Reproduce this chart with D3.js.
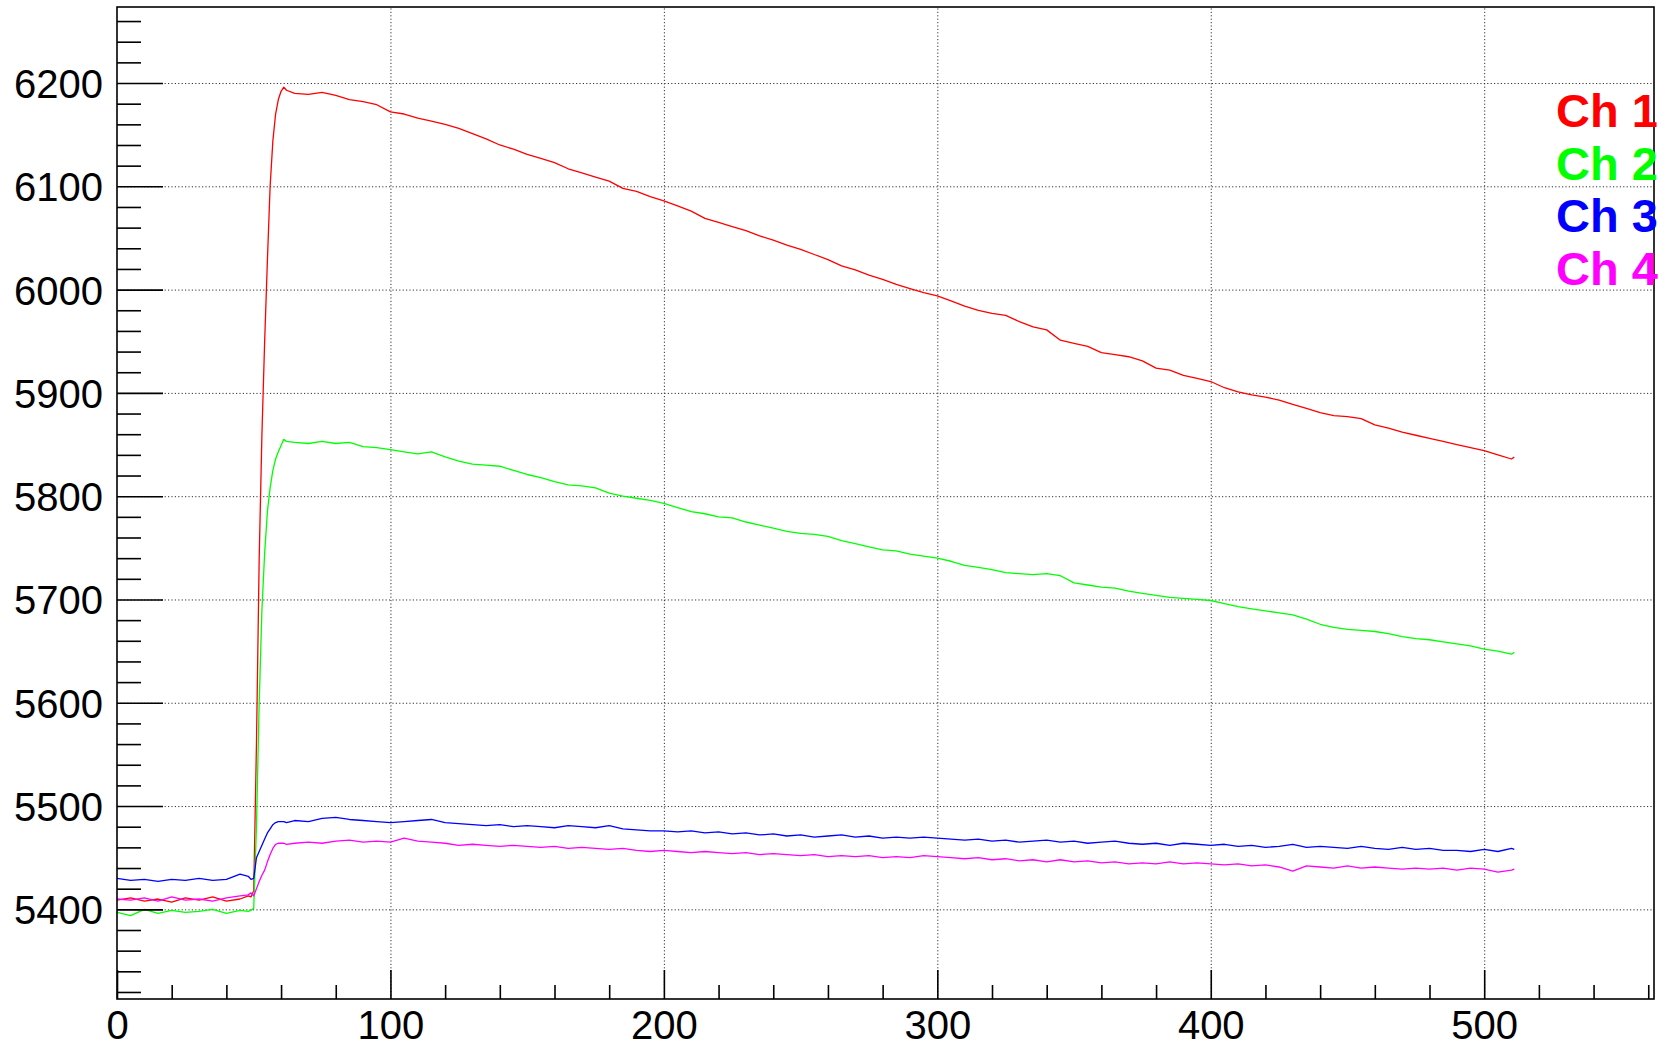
<!DOCTYPE html>
<html>
<head>
<meta charset="utf-8">
<script src="https://cdn.jsdelivr.net/npm/d3@7"></script>
<style>
  html, body { margin: 0; padding: 0; background: #ffffff; }
  svg { display: block; }
</style>
</head>
<body>
<svg id="chart" width="1679" height="1050"></svg>
<script>
// Sample index (time bin) at which each channel value is listed
const sampleIndex = [
  0, 5, 10, 15, 20, 25, 30, 35, 40, 45, 48, 49, 50, 51, 52, 53, 54, 55, 56, 57, 58, 59, 60, 61, 62,
  65, 70, 75, 80, 85, 90, 95, 100, 105, 110, 115, 120, 125, 130, 135, 140, 145, 150, 155, 160,
  165, 170, 175, 180, 185, 190, 195, 200, 205, 210, 215, 220, 225, 230, 235, 240, 245, 250, 255,
  260, 265, 270, 275, 280, 285, 290, 295, 300, 305, 310, 315, 320, 325, 330, 335, 340, 345, 350,
  355, 360, 365, 370, 375, 380, 385, 390, 395, 400, 405, 410, 415, 420, 425, 430, 435, 440, 445,
  450, 455, 460, 465, 470, 475, 480, 485, 490, 495, 500, 505, 510, 511
];

const ch1 = [
  5409, 5411, 5408, 5410, 5407, 5411, 5409, 5412, 5408, 5410, 5413, 5412, 5418, 5560, 5740, 5860, 5950, 6028, 6100, 6144, 6170, 6184, 6192, 6196, 6193,
  6190, 6189, 6191, 6188, 6184, 6182, 6179, 6172, 6170, 6166, 6163, 6160, 6156, 6151, 6146, 6140, 6136, 6131, 6127, 6123,
  6117, 6113, 6109, 6105, 6098, 6095, 6090, 6086, 6081, 6076, 6069, 6065, 6061, 6057, 6052, 6048, 6043, 6039, 6034,
  6029, 6023, 6019, 6014, 6010, 6005, 6001, 5997, 5994, 5989, 5984, 5980, 5977, 5975, 5969, 5964, 5961, 5951, 5948,
  5945, 5939, 5937, 5935, 5931, 5924, 5922, 5917, 5914, 5911, 5905, 5901, 5898, 5896, 5893, 5889, 5885, 5881, 5878,
  5877, 5875, 5869, 5866, 5862, 5859, 5856, 5853, 5850, 5847, 5844, 5840, 5836, 5838
];

const ch2 = [
  5397, 5394, 5400, 5396, 5399, 5397, 5398, 5400, 5396, 5399, 5398, 5399, 5401, 5480, 5600, 5690, 5745, 5785, 5808, 5825, 5836, 5843, 5849, 5855, 5853,
  5852, 5851, 5853, 5851, 5852, 5848, 5847, 5845, 5843, 5841, 5843, 5838, 5834, 5831, 5830, 5829, 5825, 5821, 5818, 5814,
  5811, 5810, 5808, 5803, 5800, 5798, 5796, 5793, 5789, 5785, 5783, 5780, 5779, 5775, 5772, 5769, 5766, 5764, 5763,
  5761, 5757, 5754, 5751, 5748, 5747, 5744, 5742, 5740, 5737, 5733, 5731, 5729, 5726, 5725, 5724, 5725, 5723, 5716,
  5714, 5712, 5711, 5708, 5706, 5704, 5702, 5701, 5700, 5699, 5696, 5693, 5691, 5689, 5687, 5685, 5681, 5676, 5673,
  5671, 5670, 5669, 5667, 5664, 5662, 5661, 5659, 5657, 5655, 5652, 5650, 5647, 5649
];

const ch3 = [
  5430, 5428, 5429, 5427, 5429, 5428, 5430, 5428, 5429, 5434, 5432, 5429, 5430, 5450, 5456, 5462, 5468, 5474, 5478, 5482, 5484, 5485, 5485, 5485, 5484,
  5486, 5485, 5488, 5489, 5487, 5486, 5485, 5484, 5485, 5486, 5487, 5484, 5483, 5482, 5481, 5482, 5480, 5481, 5480, 5479,
  5481, 5480, 5479, 5481, 5478, 5477, 5476, 5476, 5475, 5476, 5474, 5475, 5473, 5474, 5472, 5473, 5471, 5472, 5470,
  5471, 5472, 5470, 5471, 5469, 5470, 5469, 5470, 5469, 5468, 5467, 5468, 5466, 5467, 5465, 5466, 5467, 5465, 5466,
  5464, 5465, 5466, 5464, 5463, 5464, 5462, 5464, 5463, 5462, 5463, 5461, 5462, 5460, 5461, 5463, 5460, 5461, 5460,
  5459, 5461, 5459, 5458, 5460, 5458, 5459, 5457, 5457, 5456, 5458, 5456, 5459, 5458
];

const ch4 = [
  5410, 5409, 5411, 5408, 5412, 5409, 5410, 5408, 5411, 5413, 5414, 5416, 5413, 5420, 5427, 5433, 5438, 5446, 5453, 5459, 5463, 5464, 5464, 5464, 5463,
  5464, 5465, 5464, 5466, 5467, 5465, 5466, 5465, 5469, 5466, 5465, 5464, 5462, 5463, 5462, 5461, 5462, 5461, 5460, 5461,
  5459, 5460, 5459, 5458, 5459, 5457, 5456, 5457, 5456, 5455, 5456, 5455, 5454, 5455, 5453, 5454, 5453, 5452, 5453,
  5451, 5452, 5451, 5452, 5450, 5451, 5450, 5452, 5451, 5450, 5449, 5450, 5448, 5449, 5447, 5448, 5446, 5448, 5446,
  5447, 5445, 5446, 5444, 5445, 5444, 5446, 5444, 5445, 5444, 5443, 5444, 5442, 5443, 5441, 5437, 5442, 5441, 5440,
  5442, 5440, 5441, 5440, 5439, 5440, 5439, 5440, 5438, 5440, 5439, 5436, 5438, 5439
];

const channelNames = ["Ch 1", "Ch 2", "Ch 3", "Ch 4"];
const channelColors = ["#ff0000", "#00ff00", "#0000ff", "#ff00ff"];
const channelValues = [ch1, ch2, ch3, ch4];

const xMajorTicks = [0, 100, 200, 300, 400, 500];
const yMajorTicks = [5400, 5500, 5600, 5700, 5800, 5900, 6000, 6100, 6200];

// Frame geometry
const frame = { left: 117, top: 7, right: 1654, bottom: 999 };
const xDomain = [0, 562.1];
const yDomain = [5313.2, 6273.6];

const svg = d3.select("#chart");

const x = d3.scaleLinear().domain(xDomain).range([frame.left, frame.right]);
const y = d3.scaleLinear().domain(yDomain).range([frame.bottom, frame.top]);

const xMinorTicks = d3.range(0, 561, 20).filter(v => v % 100 !== 0);
const yMinorTicks = d3.range(5320, 6261, 20).filter(v => v % 100 !== 0);

const fontFamily = "'Liberation Sans', Arial, Helvetica, sans-serif";

// Dotted grid
const gridX = svg.append("g")
  .attr("transform", `translate(0,${frame.bottom})`)
  .call(d3.axisBottom(x).tickValues(xMajorTicks.filter(v => v > 0))
    .tickSize(-(frame.bottom - frame.top)).tickFormat(""));
const gridY = svg.append("g")
  .attr("transform", `translate(${frame.left},0)`)
  .call(d3.axisLeft(y).tickValues(yMajorTicks)
    .tickSize(-(frame.right - frame.left)).tickFormat(""));
[gridX, gridY].forEach(g => {
  g.select(".domain").remove();
  g.selectAll(".tick line")
    .attr("stroke", "#333")
    .attr("stroke-width", 1)
    .attr("stroke-dasharray", "1.2,2.2");
});

// Channel traces
const line = d3.line()
  .x((d, i) => x(sampleIndex[i]))
  .y(d => y(d));

svg.append("g")
  .selectAll("path")
  .data(channelValues)
  .join("path")
  .attr("fill", "none")
  .attr("stroke", (d, i) => channelColors[i])
  .attr("stroke-width", 1.3)
  .attr("stroke-linejoin", "round")
  .attr("d", line);

// Axes: minor ticks
const yMinor = svg.append("g")
  .attr("transform", `translate(${frame.left},0)`)
  .call(d3.axisLeft(y).tickValues(yMinorTicks).tickSize(-24).tickFormat(""));
const xMinor = svg.append("g")
  .attr("transform", `translate(0,${frame.bottom})`)
  .call(d3.axisBottom(x).tickValues(xMinorTicks).tickSize(-14).tickFormat(""));

// Axes: major ticks with labels
const yMajor = svg.append("g")
  .attr("transform", `translate(${frame.left},0)`)
  .call(d3.axisLeft(y).tickValues(yMajorTicks).tickSize(-46).tickPadding(14).tickFormat(d3.format("d")));
const xMajor = svg.append("g")
  .attr("transform", `translate(0,${frame.bottom})`)
  .call(d3.axisBottom(x).tickValues(xMajorTicks).tickSize(-29).tickPadding(12).tickFormat(d3.format("d")));

[yMinor, xMinor, yMajor, xMajor].forEach(g => {
  g.select(".domain").remove();
  g.selectAll(".tick line").attr("stroke", "#000").attr("stroke-width", 1.6);
  g.selectAll(".tick text")
    .attr("fill", "#000")
    .style("font-family", fontFamily)
    .style("font-size", "40px");
});
yMajor.selectAll(".tick text").attr("dy", "0.36em");

// Frame
svg.append("rect")
  .attr("x", frame.left)
  .attr("y", frame.top)
  .attr("width", frame.right - frame.left)
  .attr("height", frame.bottom - frame.top)
  .attr("fill", "none")
  .attr("stroke", "#000")
  .attr("stroke-width", 1.6);

// Legend: stacked channel names in their trace colours
svg.append("g")
  .selectAll("text")
  .data(channelNames)
  .join("text")
  .attr("x", 1556)
  .attr("y", (d, i) => 127 + i * 52.5)
  .attr("fill", (d, i) => channelColors[i])
  .style("font-family", fontFamily)
  .style("font-weight", "bold")
  .style("font-size", "47px")
  .text(d => d);
</script>
</body>
</html>
